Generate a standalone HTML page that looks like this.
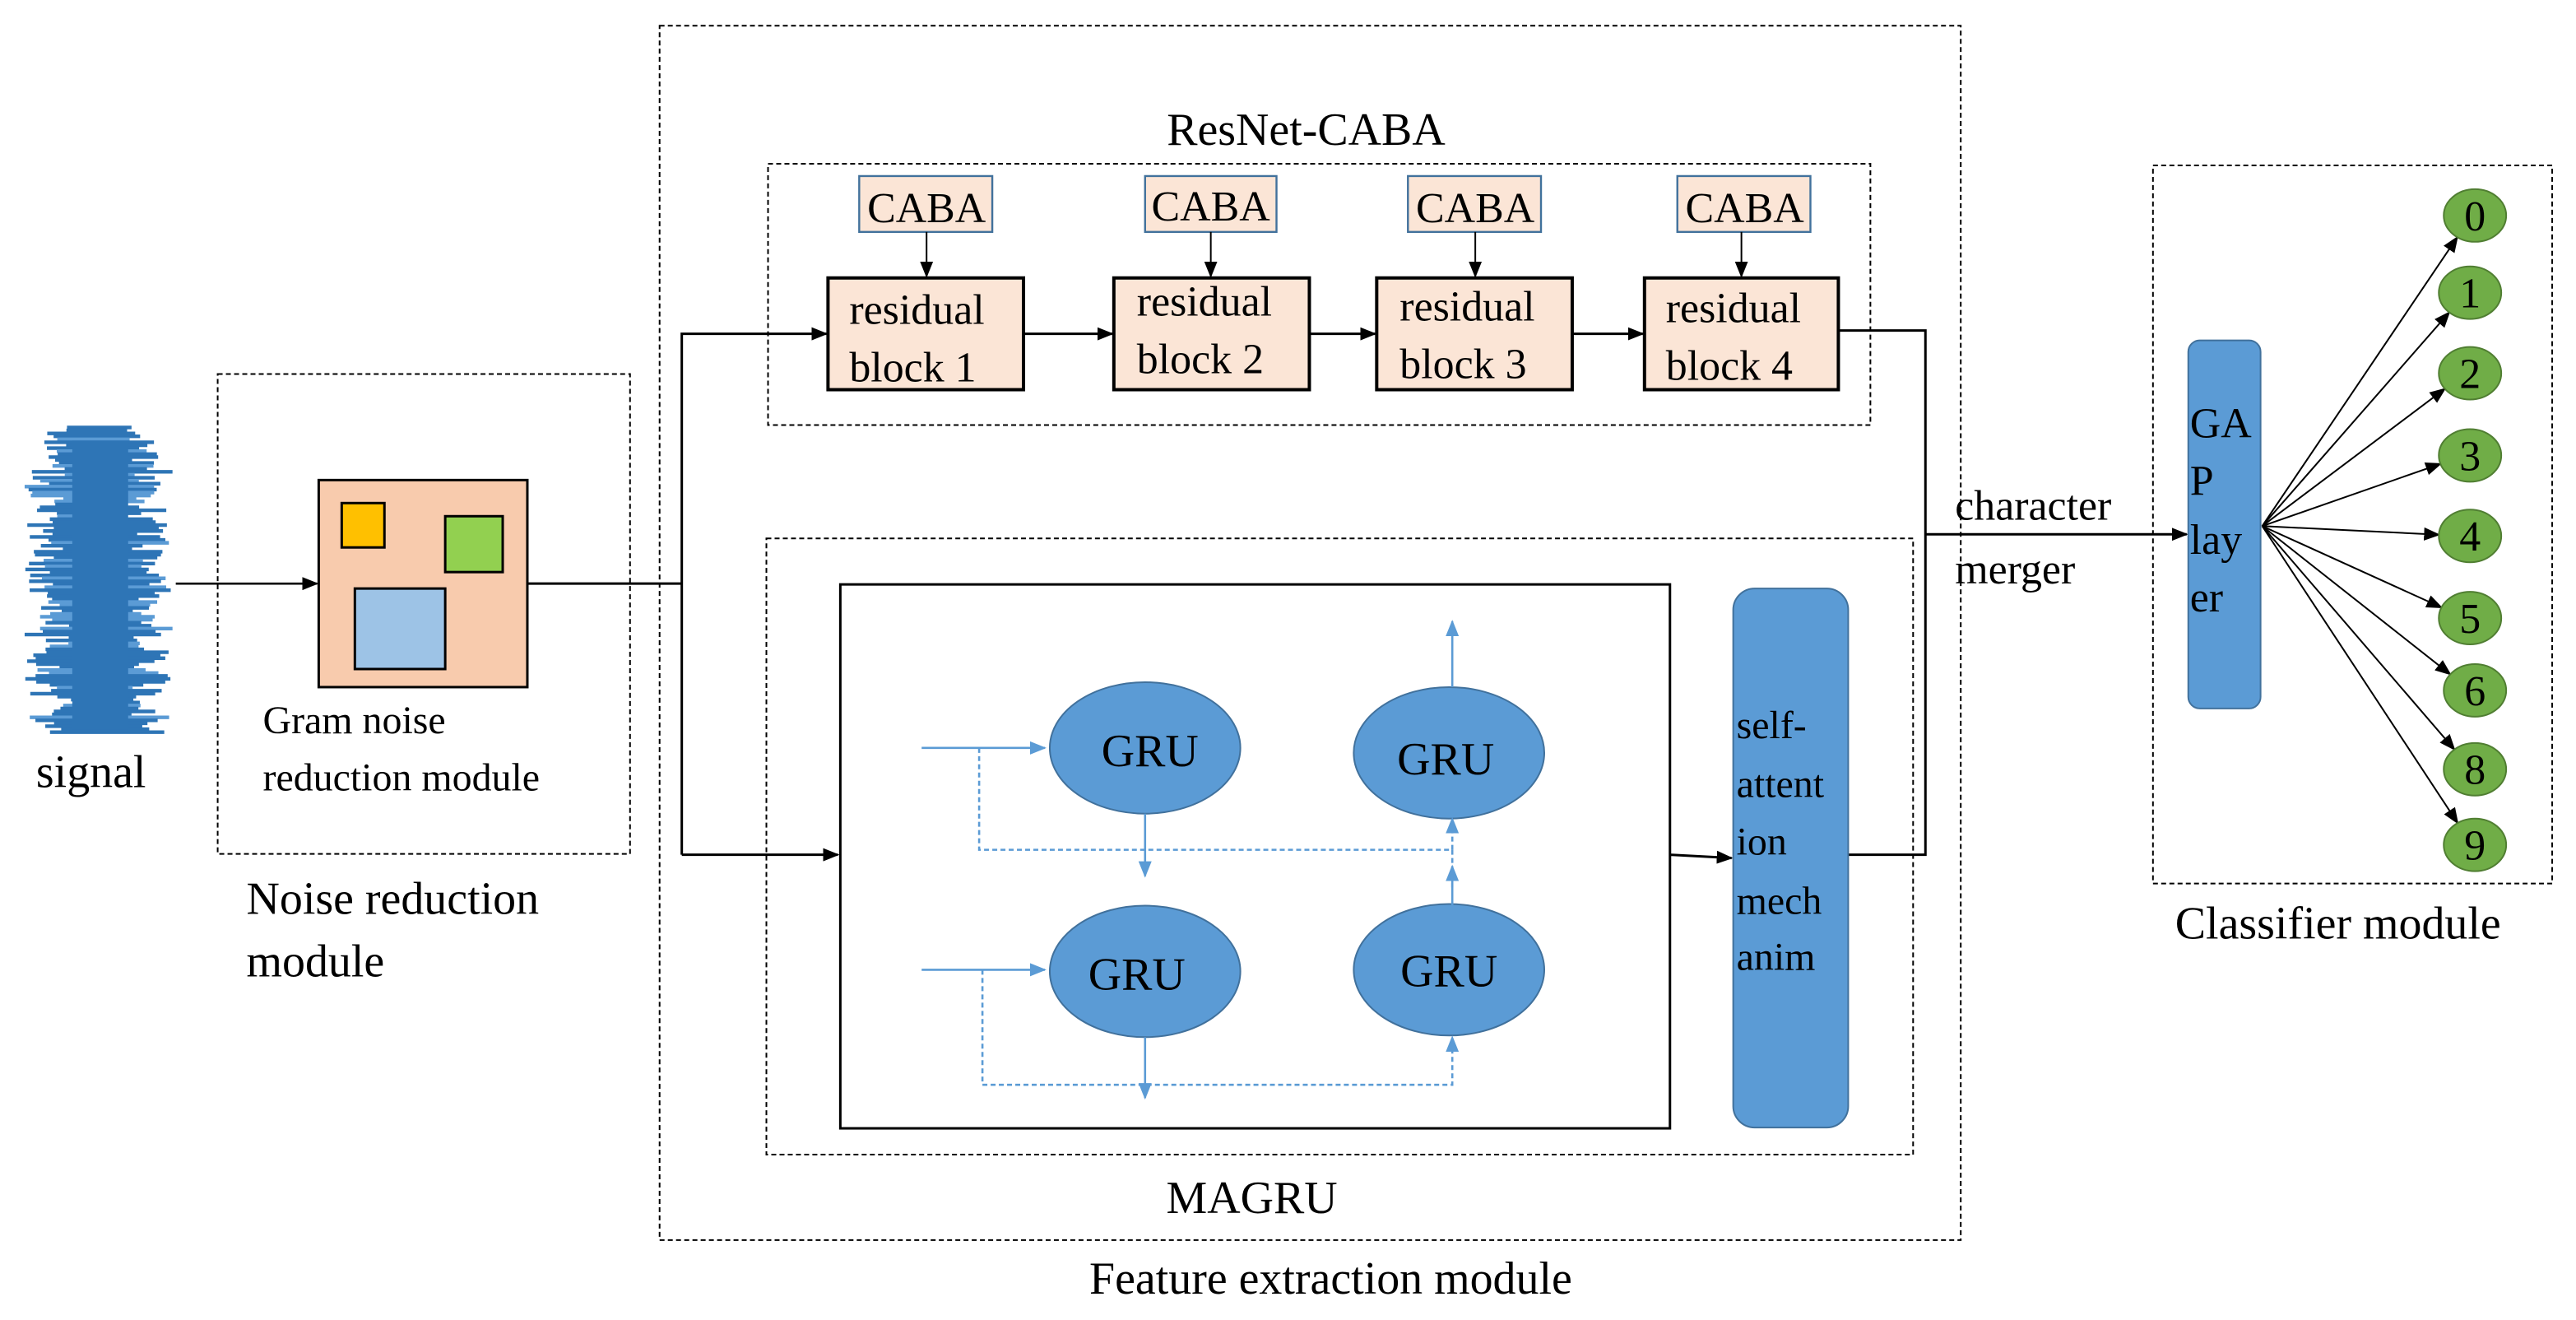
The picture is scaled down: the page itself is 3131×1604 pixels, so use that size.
<!DOCTYPE html>
<html><head><meta charset="utf-8"><style>
html,body{margin:0;padding:0;background:#fff;}
svg{display:block;}
text{font-family:"Liberation Serif","DejaVu Serif","Times New Roman",serif;fill:#000;}
</style></head><body>
<svg id="s" width="3131" height="1604" viewBox="0 0 1568 803" xmlns="http://www.w3.org/2000/svg" font-family="Liberation Serif, DejaVu Serif, serif">
<defs>
<marker id="a" markerWidth="10" markerHeight="10" refX="9" refY="5" orient="auto" markerUnits="userSpaceOnUse"><path d="M0,1 L10,5 L0,9 Z" fill="#000"/></marker>
<marker id="b" markerWidth="10" markerHeight="10" refX="9" refY="5" orient="auto" markerUnits="userSpaceOnUse"><path d="M0,1 L10,5 L0,9 Z" fill="#5b9bd5"/></marker>
</defs>
<g id="sig"></g>
<rect x="132.5" y="227.5" width="251" height="292" fill="none" stroke="#000" stroke-dasharray="3,2"/>
<rect x="194" y="292" width="127" height="126" fill="#f8cbad" stroke="#000" stroke-width="1.5"/>
<rect x="208" y="306" width="26" height="27" fill="#ffc000" stroke="#000" stroke-width="1.5"/>
<rect x="271" y="314" width="35" height="34" fill="#92d050" stroke="#000" stroke-width="1.5"/>
<rect x="216" y="358" width="55" height="49" fill="#9dc3e6" stroke="#000" stroke-width="1.5"/>
<line x1="107" y1="355" x2="193" y2="355" stroke="#000" stroke-width="1.3" marker-end="url(#a)"/>
<text x="160" y="446" font-size="24">Gram noise</text>
<text x="160" y="481" font-size="24">reduction module</text>
<text x="22" y="479" font-size="28">signal</text>
<text x="150" y="556" font-size="28">Noise reduction</text>
<text x="150" y="594" font-size="28">module</text>
<rect x="401.5" y="15.5" width="792" height="739" fill="none" stroke="#000" stroke-dasharray="3,2"/>
<text x="795" y="88" font-size="28" text-anchor="middle">ResNet-CABA</text>
<rect x="467.5" y="99.5" width="671" height="159" fill="none" stroke="#000" stroke-dasharray="3,2"/>
<g stroke="#41719c" stroke-width="1.2" fill="#fbe5d6">
<rect x="523" y="107" width="81" height="34"/><rect x="697" y="107" width="80" height="34"/>
<rect x="857" y="107" width="81" height="34"/><rect x="1021" y="107" width="81" height="34"/>
</g>
<g font-size="26" text-anchor="middle">
<text x="564" y="135">CABA</text><text x="737" y="134">CABA</text><text x="898" y="135">CABA</text><text x="1062" y="135">CABA</text>
</g>
<g stroke="#000" stroke-width="1">
<line x1="564" y1="141" x2="564" y2="168" marker-end="url(#a)"/>
<line x1="737" y1="141" x2="737" y2="168" marker-end="url(#a)"/>
<line x1="898" y1="141" x2="898" y2="168" marker-end="url(#a)"/>
<line x1="1060" y1="141" x2="1060" y2="168" marker-end="url(#a)"/>
</g>
<g stroke="#000" stroke-width="2" fill="#fbe5d6">
<rect x="504" y="169" width="119" height="68"/><rect x="678" y="169" width="119" height="68"/>
<rect x="838" y="169" width="119" height="68"/><rect x="1001" y="169" width="118" height="68"/>
</g>
<g font-size="26">
<text x="517" y="197">residual</text><text x="517" y="232">block 1</text>
<text x="692" y="192">residual</text><text x="692" y="227">block 2</text>
<text x="852" y="195">residual</text><text x="852" y="230">block 3</text>
<text x="1014" y="196">residual</text><text x="1014" y="231">block 4</text>
</g>
<g stroke="#000" stroke-width="1.5" fill="none">
<polyline points="321,355 415,355"/>
<polyline points="415,520 415,203 503,203" marker-end="url(#a)"/>
<line x1="415" y1="520" x2="510" y2="520" marker-end="url(#a)"/>
<line x1="623" y1="203" x2="677" y2="203" marker-end="url(#a)"/>
<line x1="797" y1="203" x2="837" y2="203" marker-end="url(#a)"/>
<line x1="957" y1="203" x2="1000" y2="203" marker-end="url(#a)"/>
<polyline points="1119,201 1172,201 1172,520 1125,520"/>
<line x1="1172" y1="325" x2="1331" y2="325" marker-end="url(#a)"/>
<line x1="1016" y1="520" x2="1054" y2="522" marker-end="url(#a)"/>
</g>
<rect x="466.5" y="327.5" width="698" height="375" fill="none" stroke="#000" stroke-dasharray="3,2"/>
<rect x="511.5" y="355.5" width="505" height="331" fill="#fff" stroke="#000" stroke-width="1.5"/>
<g fill="#5b9bd5" stroke="#41719c" stroke-width="1">
<ellipse cx="697" cy="455" rx="58" ry="40"/><ellipse cx="882" cy="458" rx="58" ry="40"/>
<ellipse cx="697" cy="591" rx="58" ry="40"/><ellipse cx="882" cy="590" rx="58" ry="40"/>
<rect x="1055" y="358" width="70" height="328" rx="13"/>
</g>
<g font-size="28" text-anchor="middle">
<text x="700" y="466">GRU</text><text x="880" y="471">GRU</text>
<text x="692" y="602">GRU</text><text x="882" y="600">GRU</text>
</g>
<g font-size="24">
<text x="1057" y="449">self-</text><text x="1057" y="485">attent</text><text x="1057" y="520">ion</text>
<text x="1057" y="556">mech</text><text x="1057" y="590">anim</text>
</g>
<g stroke="#5b9bd5" stroke-width="1.3" fill="none">
<line x1="561" y1="455" x2="636" y2="455" marker-end="url(#b)"/>
<line x1="561" y1="590" x2="636" y2="590" marker-end="url(#b)"/>
<line x1="697" y1="495" x2="697" y2="533" marker-end="url(#b)"/>
<line x1="697" y1="631" x2="697" y2="668" marker-end="url(#b)"/>
<line x1="884" y1="418" x2="884" y2="378" marker-end="url(#b)"/>
<line x1="884" y1="551" x2="884" y2="527" marker-end="url(#b)"/>
<polyline points="596,455 596,517 884,517 884,540" stroke-dasharray="3,2"/>
<line x1="884" y1="517" x2="884" y2="498" stroke-dasharray="3,2" marker-end="url(#b)"/>
<polyline points="598,590 598,660 884,660 884,631" stroke-dasharray="3,2" marker-end="url(#b)"/>
</g>
<text x="762" y="738" font-size="28" text-anchor="middle">MAGRU</text>
<text x="810" y="787" font-size="28" text-anchor="middle">Feature extraction module</text>
<text x="1190" y="316" font-size="26">character</text>
<text x="1190" y="355" font-size="26">merger</text>
<rect x="1310.5" y="100.5" width="243" height="437" fill="none" stroke="#000" stroke-dasharray="3,2"/>
<rect x="1332" y="207" width="44" height="224" rx="7" fill="#5b9bd5" stroke="#41719c"/>
<g font-size="26"><text x="1333" y="266">GA</text><text x="1333" y="301">P</text><text x="1333" y="337">lay</text><text x="1333" y="372">er</text></g>
<g id="cls"></g>
<text x="1324" y="571" font-size="28">Classifier module</text>
</svg>
<script>
var ns="http://www.w3.org/2000/svg";
var s=document.getElementById('sig');var seed=7;function r(){seed=(seed*9301+49297)%233280;return seed/233280;}
for(var y=260;y<447;y+=1.8){var c=60+(r()-0.5)*10;var t=(y-260)/187;var env=(t<0.1?0.6+t*4:1);var w=(18+r()*22)*env;
var l=document.createElementNS(ns,'line');var x1=Math.max(15,c-w-r()*8),x2=Math.min(105,c+w+r()*8);
l.setAttribute('x1',x1);l.setAttribute('x2',x2);l.setAttribute('y1',y);l.setAttribute('y2',y);
l.setAttribute('stroke',r()<0.25?'#5b9bd5':'#2e75b6');l.setAttribute('stroke-width','2.2');s.appendChild(l);}
var core=document.createElementNS(ns,'rect');core.setAttribute('x',44);core.setAttribute('y',268);core.setAttribute('width',34);core.setAttribute('height',176);core.setAttribute('fill','#2e75b6');s.appendChild(core);
var c=document.getElementById('cls');var ys=[131,178,227,277,326,376,420,468,514],lb=['0','1','2','3','4','5','6','8','9'];
for(var i=0;i<9;i++){var cx=1505+(i==0||i==6||i==7||i==8?1:-1)*1.5;var cy=ys[i];
var dx=cx-1377,dy=cy-320,d=Math.sqrt(dx*dx+dy*dy);var ex=cx-dx/d*19,ey=cy-dy/d*16;
var l=document.createElementNS(ns,'line');l.setAttribute('x1',1377);l.setAttribute('y1',320);l.setAttribute('x2',ex);l.setAttribute('y2',ey);
l.setAttribute('stroke','#000');l.setAttribute('stroke-width','1');l.setAttribute('marker-end','url(#a)');c.appendChild(l);
var e=document.createElementNS(ns,'ellipse');e.setAttribute('cx',cx);e.setAttribute('cy',cy);e.setAttribute('rx',19);e.setAttribute('ry',16);
e.setAttribute('fill','#70ad47');e.setAttribute('stroke','#507e32');c.appendChild(e);
var t=document.createElementNS(ns,'text');t.setAttribute('x',cx);t.setAttribute('y',cy+9);t.setAttribute('font-size','26');t.setAttribute('text-anchor','middle');t.textContent=lb[i];c.appendChild(t);}
</script>
</body></html>
